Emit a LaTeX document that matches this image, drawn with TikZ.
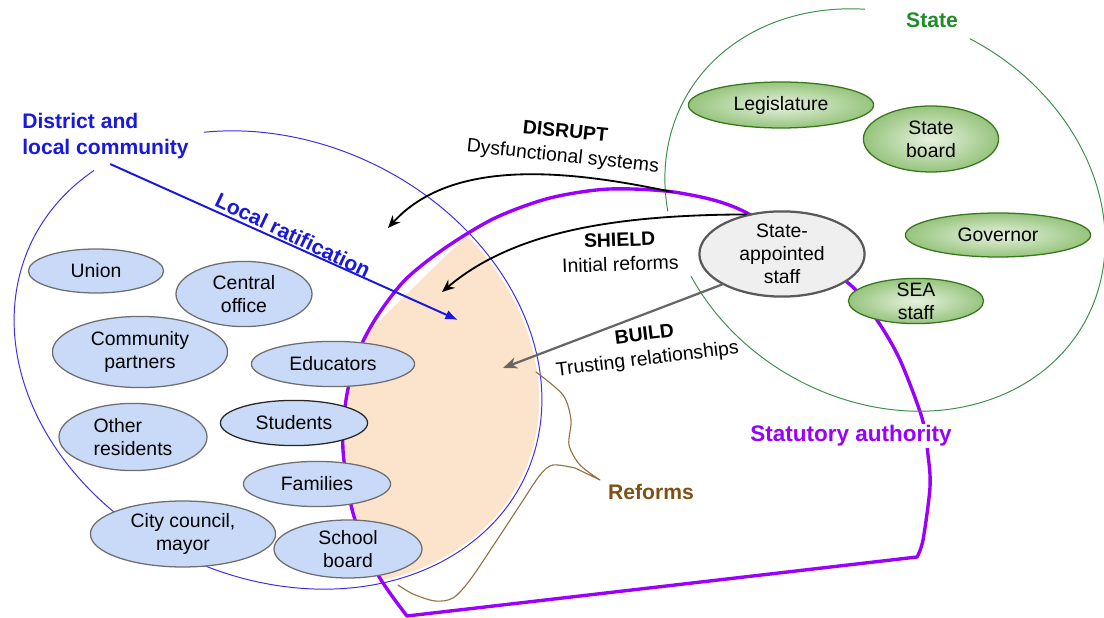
\documentclass[tikz,border=0pt]{standalone}
\usepackage{fontspec}
\setmainfont{Liberation Sans}
\usetikzlibrary{shapes.geometric,arrows.meta}

\definecolor{distblue}{RGB}{24,24,224}
\definecolor{distline}{RGB}{62,44,235}
\definecolor{statpurple}{RGB}{153,0,255}
\definecolor{stategreen}{RGB}{30,140,40}
\definecolor{stateline}{RGB}{60,145,75}
\definecolor{actorfill}{RGB}{201,218,248}
\definecolor{actorline}{RGB}{110,110,110}
\definecolor{stateinner}{RGB}{232,242,224}
\definecolor{stateouter}{RGB}{150,196,125}
\definecolor{orgline}{RGB}{56,118,29}
\definecolor{appointfill}{RGB}{239,239,239}
\definecolor{appointline}{RGB}{89,89,89}
\definecolor{reformfill}{RGB}{252,228,204}
\definecolor{reformbrown}{RGB}{127,80,20}
\definecolor{reformline}{RGB}{150,112,64}
\definecolor{buildgray}{RGB}{102,102,102}

\begin{document}
\begin{tikzpicture}[line cap=round,line join=round,
  actor/.style={ellipse, draw=actorline, line width=0.9pt, fill=actorfill, inner sep=0pt,
    align=center, font=\fontsize{13.8}{16.3}\selectfont},
  stateorg/.style={ellipse, draw=orgline, line width=0.9pt, inner color=stateinner,
    outer color=stateouter, inner sep=0pt, align=center, font=\fontsize{13.8}{16.3}\selectfont},
  appointee/.style={ellipse, draw=appointline, line width=1.6pt, fill=appointfill, inner sep=0pt,
    align=center, font=\fontsize{13.8}{16.3}\selectfont},
  heading/.style={font=\bfseries\fontsize{15}{18.5}\selectfont, inner sep=2pt},
  tactic/.style={align=center, inner sep=1pt, font=\fontsize{13.8}{17.5}\selectfont},
  move/.style={line width=1.3pt, -{Stealth[length=9pt,width=7.5pt,inset=3pt]}},
  trust/.style={buildgray, line width=1.6pt, -{Stealth[length=10pt,width=8pt,inset=3pt]}},
  ratify/.style={distblue, line width=1.4pt, -{Latex[length=9pt,width=7pt]}},
  authority/.style={statpurple, line width=2.4pt},
  reformbrace/.style={reformline, line width=0.8pt}]
  \useasboundingbox (0,0) rectangle (27.6,15.45);

  \begin{scope}
    \clip[shift={(6.95,6.45)}, rotate=-25.4] (0,0) ellipse[x radius=6.76, y radius=5.38];
    \clip plot[smooth] coordinates {(10.175,0.05) (9.425,1.125) (8.825,2.625) (8.575,4.20)
      (8.65,5.45) (8.925,6.575) (9.40,7.50) (10.125,8.45) (11.125,9.25) (12.375,10.00)
      (13.75,10.50) (15.25,10.725) (17.00,10.625) (18.675,10.125) (21.175,8.40) (21.925,7.45)
      (22.50,6.45) (23.05,5.00) (23.20,4.075) (23.25,3.275) (23.075,1.95) (22.925,1.525)} -- cycle;
    \fill[reformfill] (12.0,9.89) -- (8.0,5.98) -- (8.0,-1) -- (16,-1) -- (16,9.89) -- cycle;
  \end{scope}

  \draw[distline, line width=0.7pt, shift={(6.95,6.45)}, rotate=-25.4]
    (155:6.83 and 5.45) arc[start angle=155, end angle=487, x radius=6.83, y radius=5.45];

  \draw[authority] plot[smooth] coordinates {(10.175,0.05) (9.425,1.125) (8.825,2.625) (8.575,4.20)
      (8.65,5.45) (8.925,6.575) (9.40,7.50) (10.125,8.45) (11.125,9.25) (12.375,10.00)
      (13.75,10.50) (15.25,10.725) (17.00,10.625) (18.675,10.125) (21.175,8.40) (21.925,7.45)
      (22.50,6.45) (23.05,5.00) (23.20,4.075) (23.25,3.275) (23.075,1.95) (22.925,1.525)} -- cycle;

  \draw[stateline, line width=0.7pt, shift={(22.125,10.20)}, rotate=-30]
    (121:5.725 and 4.775) arc[start angle=121, end angle=215, x radius=5.725, y radius=4.775]
    (234:5.725 and 4.775) arc[start angle=234, end angle=453, x radius=5.725, y radius=4.775];

  \draw[reformbrace] plot[smooth] coordinates {(13.40,6.15) (14.075,5.575) (14.275,4.95)
      (14.225,4.325) (14.50,3.825) (15.00,3.45)}
    -- plot[smooth] coordinates {(14.375,3.75) (13.825,3.825) (13.50,3.575) (13.00,2.825)
      (12.425,1.95) (11.75,0.95) (11.325,0.50) (10.875,0.425) (10.325,0.60) (9.95,0.825)};

  \node[actor, minimum width=3.38cm, minimum height=1.10cm] (union) at (2.40,8.675) {Union};
  \node[actor, minimum width=3.40cm, minimum height=1.63cm] (central) at (6.10,8.10) {Central\\office};
  \node[actor, minimum width=4.38cm, minimum height=1.78cm] (partners) at (3.50,6.65) {Community\\partners};
  \node[actor, minimum width=4.08cm, minimum height=1.13cm] (educators) at (8.325,6.35) {Educators};
  \node[actor, align=left, minimum width=3.70cm, minimum height=1.68cm] (residents) at (3.325,4.525) {Other\\residents};
  \node[actor, draw=black!85, minimum width=3.68cm, minimum height=1.13cm] (students) at (7.35,4.875) {Students};
  \node[actor, minimum width=3.68cm, minimum height=1.13cm] (families) at (7.925,3.35) {Families};
  \node[actor, minimum width=4.63cm, minimum height=1.65cm] (council) at (4.575,2.10) {City council,\\mayor};
  \node[actor, minimum width=3.70cm, minimum height=1.45cm] (board) at (8.70,1.725) {School\\board};

  \node[stateorg, minimum width=4.63cm, minimum height=1.15cm] (legislature) at (19.525,12.825) {Legislature};
  \node[stateorg, minimum width=3.38cm, minimum height=1.65cm] (stateboard) at (23.275,11.975) {State\\board};
  \node[stateorg, minimum width=4.63cm, minimum height=1.10cm] (governor) at (24.95,9.575) {Governor};
  \node[stateorg, inner ysep=-3.3pt, minimum width=3.38cm, minimum height=1.13cm] (sea) at (22.90,7.925) {SEA\\staff};
  \node[appointee, inner ysep=-1.5pt, minimum width=4.13cm, minimum height=2.13cm] (appointed) at (19.55,9.10) {State-\\appointed\\staff};

  \node[heading, text=distblue, align=left, anchor=west] (district) at (0.48,12.05) {District and\\local community};
  \node[heading, text=stategreen] (statehead) at (23.30,14.95) {State};
  \node[heading, text=statpurple, fill=white, inner sep=1pt, font=\bfseries\fontsize{16}{19}\selectfont] (statutory) at (21.275,4.55) {Statutory authority};
  \node[heading, text=reformbrown] (reforms) at (16.275,3.15) {Reforms};
  \node[heading, text=distblue, rotate=-25.5] (ratifylabel) at (7.325,9.575) {Local ratification};

  \node[tactic, rotate=-6] (disruptlabel) at (14.10,11.825) {\textbf{DISRUPT}\\Dysfunctional systems};
  \node[tactic, rotate=2] (shieldlabel) at (15.50,9.15) {\textbf{SHIELD}\\Initial reforms};
  \node[tactic, rotate=7] (buildlabel) at (16.15,6.75) {\textbf{BUILD}\\Trusting relationships};

  \coordinate (disrupt-from) at (16.80,10.65);
  \coordinate (disrupt-to) at (9.70,9.75);
  \coordinate (shield-to) at (11.05,8.15);
  \coordinate (build-to) at (12.575,6.25);
  \coordinate (ratify-to) at (11.45,7.45);

  \draw[move] (disrupt-from) .. controls (14.0,11.25) and (11.25,11.45) .. (disrupt-to);
  \draw[move] (appointed.132) .. controls (15.5,10.075) and (12.875,9.70) .. (shield-to);
  \draw[trust] (appointed.207) -- (build-to);
  \draw[ratify, shorten <=4pt] (district.south) -- (ratify-to);
\end{tikzpicture}
\end{document}
